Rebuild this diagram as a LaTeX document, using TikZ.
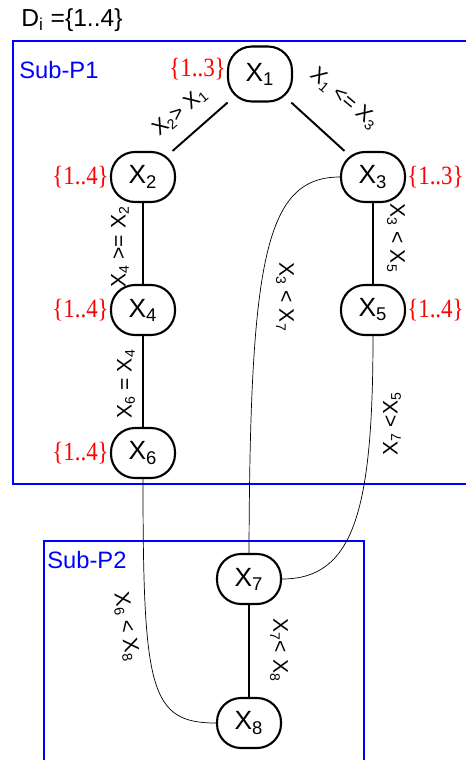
\documentclass[tikz,border=0pt]{standalone}
\usepackage{fontspec}
\setmainfont{Liberation Sans}
\newfontfamily\domfont[FakeStretch=0.87]{Liberation Serif}
\usetikzlibrary{positioning}
\definecolor{sp-blue}{RGB}{0,0,255}
\definecolor{dom-red}{RGB}{255,0,0}
\newcommand{\xv}[1]{X\textsubscript{#1}}

\begin{document}
\begin{tikzpicture}[
    x=0.02cm, y=-0.02cm, % one unit per pixel, y running downwards
    font=\fontsize{12}{14}\selectfont
  ]

  % Styles for variables, domains and constraints
  \tikzset{
    var/.style={draw, line width=1.2pt, rounded corners=0.48cm, minimum width=1.28cm, minimum height=1cm, inner sep=0pt, font=\fontsize{15}{18}\selectfont},
    dom/.style={text=dom-red, inner sep=0.5pt, font=\domfont\fontsize{15}{18}\selectfont},
    rel/.style={inner sep=0pt},
    link/.style={line width=1.1pt},
    thinlink/.style={line width=0.4pt},
    subprob/.style={draw=sp-blue, line width=1.3pt},
    framelabel/.style={text=sp-blue, anchor=west, inner sep=0pt, font=\fontsize{13.5}{16}\selectfont}
  }

  \clip (0,0) rectangle (466,760);

  % Sub-problem frames
  \draw[subprob] (13,41) rectangle (480,484);
  \draw[subprob] (44,541) rectangle (364,780);
  \node[framelabel] (p1) at (19,70) {Sub-P1};
  \node[framelabel] (p2) at (47,560) {Sub-P2};
  \node[inner sep=0pt, font=\fontsize{14}{16}\selectfont] (dom) at (72,20) {D\textsubscript{i} =\{1..4\}};

  % Variables
  \node (X1) [var, minimum height=1.1cm] at (260,74)  {\xv{1}};
  \node (X2) [var] at (143,177) {\xv{2}};
  \node (X3) [var] at (373,177) {\xv{3}};
  \node (X4) [var] at (143,310) {\xv{4}};
  \node (X5) [var] at (373,310) {\xv{5}};
  \node (X6) [var] at (143,453) {\xv{6}};
  \node (X7) [var] at (249,579) {\xv{7}};
  \node (X8) [var] at (249,723) {\xv{8}};

  % Domains
  \node (d1) [dom, left=0pt of X1, yshift=3pt] {\{1..3\}};
  \node (d2) [dom, left=0pt of X2] {\{1..4\}};
  \node (d3) [dom, right=0pt of X3] {\{1..3\}};
  \node (d4) [dom, left=0pt of X4] {\{1..4\}};
  \node (d5) [dom, right=0pt of X5] {\{1..4\}};
  \node (d6) [dom, left=0pt of X6] {\{1..4\}};

  % Constraints inside the sub-problems
  \draw[link] (X1) -- (X2);
  \draw[link] (X1) -- (X3);
  \draw[link] (X2) -- (X4);
  \draw[link] (X4) -- (X6);
  \draw[link] (X3) -- (X5);
  \draw[link] (X7) -- (X8);

  % Constraints between the sub-problems
  \draw[thinlink] (X3.west) .. controls +(-75,0) and +(1,-293) .. (X7.north);
  \draw[thinlink] (X5.south) .. controls +(0,174) and +(72,0) .. (X7.east);
  \draw[thinlink] (X6.south) .. controls +(0,211) and +(-66,0) .. (X8.west);

  % Constraint labels
  \node (r12) [rel, rotate=40]  at (180,112) {\xv{2}> \xv{1}};
  \node (r13) [rel, rotate=-40] at (344,99)  {\xv{1} <= \xv{3}};
  \node (r24) [rel, rotate=90]  at (120,247) {\xv{4} >= \xv{2}};
  \node (r46) [rel, rotate=90]  at (126,384) {\xv{6} = \xv{4}};
  \node (r35) [rel, rotate=-90] at (396,238) {\xv{3} < \xv{5}};
  \node (r37) [rel, rotate=-90] at (285,297) {\xv{3} < \xv{7}};
  \node (r57) [rel, rotate=90]  at (392,424) {\xv{7} <\xv{5}};
  \node (r78) [rel, rotate=-90] at (279,650) {\xv{7}< \xv{8}};
  \node (r68) [rel, rotate=-80] at (126,627) {\xv{6} < \xv{8}};

\end{tikzpicture}
\end{document}
